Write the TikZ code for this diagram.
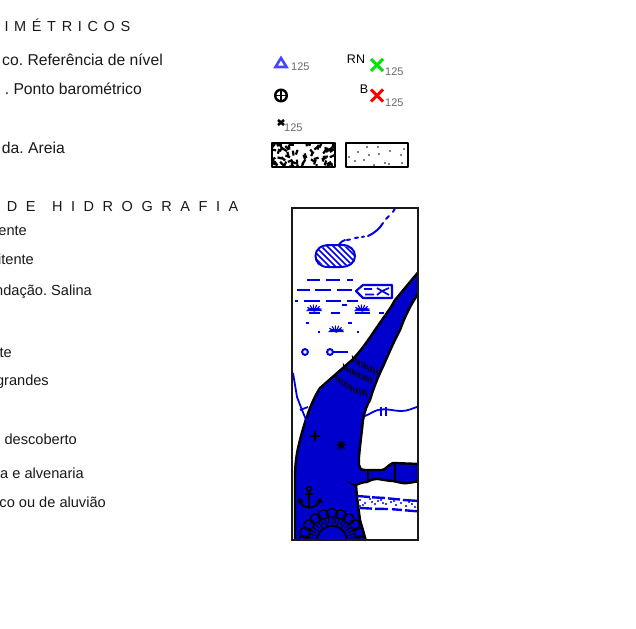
\documentclass[tikz,border=0pt]{standalone}
\usepackage{fontspec}
\setmainfont{Liberation Sans}
\newfontface\headfonta[LetterSpace=39]{Liberation Sans}
\newfontface\headfontb[LetterSpace=59]{Liberation Sans}
\definecolor{riverblue}{RGB}{0,0,205}
\definecolor{lineblue}{RGB}{0,0,225}
\definecolor{tagray}{RGB}{105,105,105}
\tikzset{
  bigtxt/.style={anchor=base east,inner sep=0pt,font=\fontsize{15.7}{18}\selectfont\frenchspacing,text=black!90},
  smalltxt/.style={anchor=base east,inner sep=0pt,font=\fontsize{14.6}{17}\selectfont\frenchspacing,text=black!90},
  headtxt/.style={anchor=base east,inner sep=0pt,text=black!90},
  tagtxt/.style={anchor=base west,inner sep=0pt,font=\fontsize{11}{13}\selectfont,text=tagray},
  marktxt/.style={anchor=base,inner sep=0pt,font=\fontsize{12.5}{14}\selectfont,text=black},
  texbox/.style={draw=black,line width=2.6pt,line join=round},
  water/.style={draw=lineblue,line width=2pt},
  riveredge/.style={draw=black,line width=2.4pt,line join=round}
}
\begin{document}
\begin{tikzpicture}[x=1pt,y=-1pt]
\useasboundingbox (0,0) rectangle (636,628);
\fill[white] (0,0) rectangle (636,628);
% left texts
\node[headtxt,font=\fontsize{14.5}{17}\headfonta] (h1) at (130.5,32) {IMÉTRICOS};
\node[bigtxt] (t1) at (163,65.6) {co. Referência de nível};
\node[bigtxt] (t2) at (142,94.6) {. Ponto barométrico};
\node[bigtxt] (t3) at (65,153.6) {da. Areia};
\node[headtxt,font=\fontsize{14.5}{17}\headfontb] (h2) at (238.5,211.5) {DE\hspace{4pt} HIDROGRAFIA};
\node[smalltxt] (t4) at (27,235.5) {ente};
\node[smalltxt] (t5) at (34,264) {itente};
\node[smalltxt] (t6) at (92,295.5) {ndação. Salina};
\node[smalltxt] (t7) at (12,357) {te};
\node[smalltxt] (t8) at (49,385) {grandes};
\node[smalltxt] (t9) at (77,444) {descoberto};
\node[smalltxt] (t10) at (84,478) {a e alvenaria};
\node[smalltxt] (t11) at (106,507) {co ou de aluvião};
% point symbols
\draw[draw={rgb,255:red,70;green,70;blue,255},line width=2.6pt,line join=miter] (275.5,67) -- (286.5,67) -- (281,58) -- cycle;
\node[tagtxt] (n1) at (291,71) {125};
\node[marktxt] (rn) at (356,64) {RN};
\draw[green!90!black,line width=3pt] (371,59) -- (383,71) (383,59) -- (371,71);
\node[tagtxt] (n2) at (385,76) {125};
\node[marktxt] (bb) at (364,94) {B};
\draw[red,line width=3pt] (371,89.5) -- (383,101.5) (383,89.5) -- (371,101.5);
\node[tagtxt] (n3) at (385,107) {125};
\draw[black,line width=2.4pt] (281,95.5) circle (5.8);
\draw[black,line width=1.8pt] (275,95.5) -- (287,95.5) (281,89.5) -- (281,101.5);
\draw[black,line width=2.5pt] (278,120) -- (284,125) (284,120) -- (278,125);
\node[tagtxt] (n4) at (284,132) {125};
% texture boxes
\begin{scope}
\clip (272,143) rectangle (335,167);
\pgfmathsetseed{17}
\foreach \i in {1,...,62}{
  \pgfmathsetmacro{\xa}{272+63*rnd}
  \pgfmathsetmacro{\ya}{143+24*rnd}
  \pgfmathsetmacro{\an}{360*rnd}
  \draw[black,line width=2.2pt,rotate around={\an:(\xa,\ya)}] (\xa-2.5,\ya) -- (\xa+2.5,\ya);
}
\end{scope}
\draw[texbox] (272,143) rectangle (335,167);
\foreach \px/\py in {349/157,358/152,367/147,369/155,364/160,355/161,378/147,379/154,390/151,404/149,401/155,402/163,374/165,389/164,385/163}
  \fill[black] (\px,\py) circle (0.95);
\draw[texbox] (346,143) rectangle (408,167);
% map
\begin{scope}
\clip (292,208) rectangle (418,540);
% river
\fill[riverblue] (418,272) -- (395,300) -- (391,307) -- (375,330) .. controls (365,345) and (358,354) .. (352,360) -- (320,388) .. controls (312,400) and (305,420) .. (300,440) .. controls (296,455) and (295,465) .. (295,480) -- (295,541) -- (366,541) -- (360,520) -- (357,497) -- (356,485) .. controls (360,483) and (364,482) .. (367,482) .. controls (372,479) and (376,479) .. (378,479) .. controls (385,480) and (389,481) .. (393,481) .. controls (398,482) and (404,484) .. (408,483) -- (420,481) -- (420,464) -- (393,463) .. controls (388,465) and (385,470) .. (382,470) -- (365,470) .. controls (361,470) and (359,468) .. (359,465) -- (359,457) .. controls (360,445) and (362,430) .. (363,420) .. controls (365,410) and (367,405) .. (370,400) .. controls (373,390) and (376,382) .. (380,373) .. controls (387,358) and (393,343) .. (400,330) .. controls (403,322) and (408,308) .. (420,291) -- (420,270) -- cycle;
\draw[riveredge] (420,270) -- (395,300) -- (391,307) -- (375,330) .. controls (365,345) and (358,354) .. (352,360) -- (320,388) .. controls (312,400) and (305,420) .. (300,440) .. controls (296,455) and (295,465) .. (295,480) -- (295,541);
\draw[riveredge] (420,291) .. controls (408,308) and (403,322) .. (400,330) .. controls (393,343) and (387,358) .. (380,373) .. controls (376,382) and (373,390) .. (370,400) .. controls (367,405) and (365,410) .. (363,420) .. controls (362,430) and (360,445) .. (359,457) -- (359,465) .. controls (359,468) and (361,470) .. (365,470) -- (382,470) .. controls (385,470) and (388,465) .. (393,463) -- (420,464);
\draw[riveredge] (420,481) -- (408,483) .. controls (404,484) and (398,482) .. (393,481) .. controls (389,481) and (385,480) .. (378,479) .. controls (376,479) and (372,479) .. (367,482) .. controls (364,482) and (360,483) .. (356,485) -- (357,497) -- (360,520) -- (366,541);
\draw[black,line width=1.2pt] (348,482) -- (356,486);
% dams
\draw[black,line width=2.6pt] (368,469) -- (368,482) (395,463) -- (395,482);
% rapids
\foreach \px/\py in {353/359,356/361,359/363,362/365,365/366,368/368,371/369,374/371,377/372,
 344/367,347/369,350/371,353/372,356/374,359/375,362/377,365/378,368/379,371/380,
 336/377,339/380,342/382,345/384,348/386,351/388,354/390,357/391,360/392,363/392,366/393}
  \draw[black,line width=1.2pt] (\px-0.7,\py-3.4) -- (\px+0.7,\py+3.4);
% anchor
\draw[black,line width=1.7pt] (309,489) circle (2.4);
\draw[black,line width=2pt] (309,491) -- (309,507) (305,494) -- (313,494);
\draw[black,line width=2pt] (300,500) .. controls (301,510) and (317,510) .. (320,500);
\draw[black,line width=1.6pt] (298,503) -- (300,499) -- (303,502) (317,502) -- (320,499) -- (322,503);
% plus and star
\draw[black,line width=1.5pt] (310,436) -- (320,436) (315,431) -- (315,441);
\draw[black,line width=1.4pt] (336.5,445) -- (345.5,445) (341,440.5) -- (341,449.5) (337.5,441.5) -- (344.5,448.5) (344.5,441.5) -- (337.5,448.5);
% scalloped reef
\foreach \a in {0,18,...,180}
  \draw[black,line width=1.3pt] ({332+28*cos(\a)},{541-27*sin(\a)}) circle (5.5);
\fill[riverblue] (332,541) circle (23);
\foreach \a in {0,18,...,180}{
  \draw[black,line width=1pt] ({332+15*cos(\a)},{541-15*sin(\a)}) -- ({332+24*cos(\a)},{541-24*sin(\a)});
  \draw[black,line width=1pt] ({332+18*cos(\a+9)},{541-18*sin(\a+9)}) -- ({332+25*cos(\a+9)},{541-25*sin(\a+9)});
}
\draw[black,line width=1.8pt] (332,541) circle (15);
\draw[black,line width=1.1pt] (332,541) circle (24);
% streams and top line
\draw[water,line width=1.8pt] (293,373) -- (297,397) -- (302,410) -- (307,422) (300,410) -- (308,407);
\draw[water,line width=1.8pt] (365,416) .. controls (370,414) and (374,411) .. (378,410) .. controls (388,408) and (392,411) .. (402,411) .. controls (408,411) and (413,408) .. (420,406);
\draw[water] (381,407) -- (381,416) (386,407) -- (386,416);
\draw[water,line cap=round] (395,208) -- (393,212);
\draw[water,line cap=round] (389,216) -- (386,219);
\draw[water,line cap=round] (383,223) .. controls (380,228) and (375,233) .. (368,236);
\draw[water,line cap=round] (362,237) -- (364,236.5) (355,238) -- (358,237.5) (347,240) -- (350,239.5);
\draw[water,line cap=round] (339,244.5) .. controls (341,242) and (343,240.5) .. (345,240);
% lake
\begin{scope}
\clip (335,256) ellipse (20 and 11);
\foreach \d in {-40,-34,...,40}
  \draw[lineblue,line width=1.6pt] (335+\d-14,242) -- (335+\d+14,270);
\end{scope}
\draw[water] (315.5,256) .. controls (315.5,249) and (321,245) .. (330,245) -- (342,245) .. controls (350,245) and (355,250) .. (355,256) .. controls (355,263) and (349,267) .. (340,267) -- (328,267) .. controls (320,267) and (315.5,262) .. (315.5,256) -- cycle;
% marsh dashes
\draw[water] (307,280) -- (320,280) (326,280) -- (340,280) (347,280) -- (353,280)
 (297,290) -- (310,290) (315,290) -- (331,290) (337,290) -- (352,290)
 (295,301) -- (298,301) (304,301) -- (320,301) (326,301) -- (341,301) (347,301) -- (358,301) (342,305) -- (347,305)
 (309,313) -- (320,313) (331,313) -- (340,313) (355,313) -- (370,313) (379,313) -- (384,313)
 (306,323) -- (309,323) (348,323) -- (352,323) (318,332) -- (320,332) (357,332) -- (359,332);
% salt pan
\draw[water,line join=round,line width=2.2pt] (356,291) -- (363,285) -- (392,285) -- (392,298) -- (363,298) -- cycle;
\draw[lineblue,line width=1.7pt] (364,289) -- (372,289) (365,294.5) -- (374,294.5) (377,288) -- (382,291) -- (377,295) (389,288) -- (382,291) -- (389,295);
% tufts
\foreach \cx/\cy in {314/311,362/311,336/332}{
  \fill[lineblue] (\cx-8,\cy) -- (\cx+8,\cy) -- (\cx+5,\cy-3) -- (\cx-5,\cy-3) -- cycle;
  \foreach \a in {20,45,...,160}
    \draw[lineblue,line width=1.1pt] (\cx,\cy) -- ({\cx+8*cos(\a)},{\cy-6.5*sin(\a)});
}
% springs
\draw[water] (305,352) circle (2.9);
\draw[water] (330,352) circle (2.9);
\draw[water] (333,352) -- (348,352);
% coast band
\foreach \px/\py in {360/500,365/503,370/499,375/504,381/500,386/504,391/502,396/505,401/503,406/506,412/504,363/505,372/502,383/503,394/501,404/500,415/507,360/506,378/501,409/502}
  \fill[lineblue] (\px,\py) circle (1.1);
\draw[lineblue,line width=2.4pt] (357,496) -- (370,497) (372,497.3) -- (385,498) (388,498.4) -- (400,499.5) (403,500) -- (420,501);
\draw[lineblue,line width=2.4pt] (360,508) -- (372,508.6) (375,508.8) -- (388,509) (392,509.2) -- (402,510) (405,510.3) -- (420,511.5);
\end{scope}
\draw[black!90,line width=2.2pt] (292,208) rectangle (418,540);
\end{tikzpicture}
\end{document}
